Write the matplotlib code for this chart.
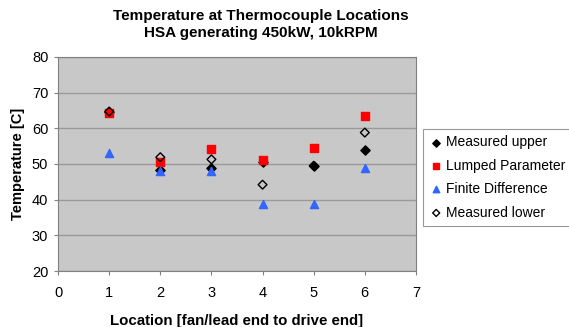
import matplotlib
matplotlib.use("Agg")
import matplotlib.pyplot as plt

plt.rcParams['font.family'] = ['Liberation Sans', 'DejaVu Sans']

# Messdaten
locations = [1, 2, 3, 4, 5, 6]
measured_upper = [64.5, 48.2, 48.8, 50.5, 49.4, 54.0]
lumped_param = [64.2, 50.5, 54.1, 51.0, 54.5, 63.4]
finite_diff = [53.0, 48.0, 48.0, 38.8, 38.8, 49.0]
measured_lower = [64.7, 51.9, 51.3, 44.2, 49.5, 58.8]

fig = plt.figure(figsize=(5.69, 3.27), dpi=100)
ax = fig.add_axes([0.102, 0.171, 0.629, 0.655])
ax.set_facecolor('#C8C8C8')

ax.scatter(locations, measured_upper, marker='D', s=22, color='black',
           label='Measured upper', zorder=3)
ax.scatter(locations, lumped_param, marker='s', s=30, color='#FF0000',
           label='Lumped Parameter', zorder=3)
ax.scatter(locations, finite_diff, marker='^', s=34, color='#3366FF',
           label='Finite Difference', zorder=3)
ax.scatter(locations, measured_lower, marker='D', s=20, facecolor='none',
           edgecolor='black', linewidths=1.0, label='Measured lower', zorder=4)

ax.set_xlim(0, 7)
ax.set_ylim(20, 80)
ax.set_xticks(range(0, 8))
ax.set_yticks(range(20, 81, 10))
ax.yaxis.grid(True, color='#9A9A9A', linewidth=1.0)
ax.set_axisbelow(True)
for s in ax.spines.values():
    s.set_color('#808080')
ax.tick_params(labelsize=10.5, length=3, color='#808080')
ax.tick_params(axis='x', pad=8)
ax.tick_params(axis='y', pad=4)

ax.set_xlabel('Location [fan/lead end to drive end]', fontsize=10.8,
              fontweight='bold', labelpad=10)
ax.set_ylabel('Temperature [C]', fontsize=10.5, fontweight='bold', labelpad=5)
fig.text(0.459, 0.972, 'Temperature at Thermocouple Locations\nHSA generating 450kW, 10kRPM',
         fontsize=11, fontweight='bold', ha='center', va='top', linespacing=1.3)

leg = ax.legend(loc='upper left', bbox_to_anchor=(423 / 569, 1 - 129 / 327),
                bbox_transform=fig.transFigure, borderaxespad=0,
                fontsize=10, frameon=True, fancybox=False, edgecolor='#808080',
                handletextpad=0.2, handlelength=1.0, borderpad=0.45,
                labelspacing=0.68, markerscale=0.8)
leg.get_frame().set_linewidth(0.8)

fig.savefig('out.png', dpi=100)
